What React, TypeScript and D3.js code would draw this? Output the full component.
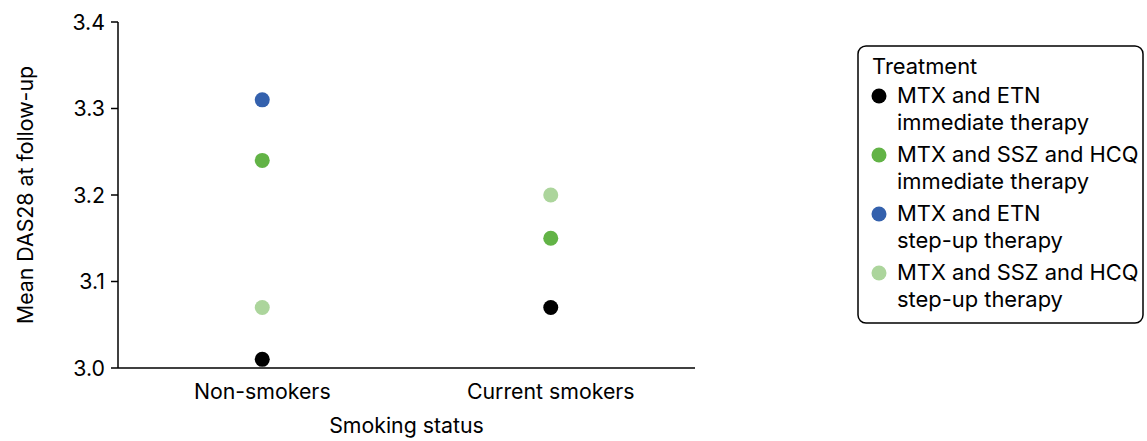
import React from "react";
import * as d3 from "d3";

const categories = ["Non-smokers", "Current smokers"];
const seriesNames = [
  ["MTX and ETN", "immediate therapy"],
  ["MTX and SSZ and HCQ", "immediate therapy"],
  ["MTX and ETN", "step-up therapy"],
  ["MTX and SSZ and HCQ", "step-up therapy"],
];
const seriesColors = ["#000000", "#62b346", "#3461ad", "#acd59c"];
const etnImmediate = [3.01, 3.07];
const triImmediate = [3.24, 3.15];
const etnStepUp: (number | null)[] = [3.31, null];
const triStepUp = [3.07, 3.2];
const yTicks = [3.0, 3.1, 3.2, 3.3, 3.4];

const FONT = "Inter, 'Open Sans', sans-serif";

export default function App() {
  const W = 1147, H = 441;
  const left = 118, right = 695, top = 22, bottom = 368;
  const x = d3.scalePoint<string>().domain(categories).range([left, right]).padding(0.5);
  const y = d3.scaleLinear().domain([3.0, 3.4]).range([bottom, top]);
  const series = [etnImmediate, triImmediate, etnStepUp, triStepUp];
  const fs = 21.3;
  const lfs = 21.9;
  return (
    <svg width={W} height={H} style={{ position: "absolute", left: 0, top: 0, background: "#fff" }} fontFamily={FONT}>
      {/* y axis */}
      <line x1={left} x2={left} y1={top} y2={bottom} stroke="#000" strokeWidth={1.5} />
      {yTicks.map((t) => (
        <g key={t}>
          <line x1={left - 7} x2={left} y1={y(t)} y2={y(t)} stroke="#000" strokeWidth={1.5} />
          <text x={left - 13} y={y(t)} dy="0.36em" textAnchor="end" fontSize={fs} fill="#000">
            {d3.format(".1f")(t)}
          </text>
        </g>
      ))}
      {/* x axis */}
      <line x1={left} x2={right} y1={bottom} y2={bottom} stroke="#000" strokeWidth={1.5} />
      {categories.map((c) => (
        <text key={c} x={x(c)} y={399} textAnchor="middle" fontSize={fs} fill="#000">{c}</text>
      ))}
      <text x={(left + right) / 2} y={433} textAnchor="middle" fontSize={fs} fill="#000">Smoking status</text>
      <text transform={`translate(33,${(top + bottom) / 2}) rotate(-90)`} textAnchor="middle" fontSize={fs} fill="#000">
        Mean DAS28 at follow-up
      </text>
      {/* points */}
      {series.map((vals, si) =>
        vals.map((v, ci) =>
          v == null ? null : (
            <circle key={`${si}-${ci}`} cx={x(categories[ci])} cy={y(v)} r={7.5} fill={seriesColors[si]} />
          )
        )
      )}
      {/* legend */}
      <rect x={858} y={46} width={285} height={277} rx={8} ry={8} fill="#fff" stroke="#000" strokeWidth={1.5} />
      <text x={872} y={74} fontSize={lfs} fill="#000">Treatment</text>
      {seriesNames.map((nm, i) => (
        <g key={i} transform={`translate(0,${i * 59})`}>
          <circle cx={879} cy={96} r={7.5} fill={seriesColors[i]} />
          <text x={897} y={103} fontSize={lfs} fill="#000">{nm[0]}</text>
          <text x={897} y={130} fontSize={lfs} fill="#000">{nm[1]}</text>
        </g>
      ))}
    </svg>
  );
}
